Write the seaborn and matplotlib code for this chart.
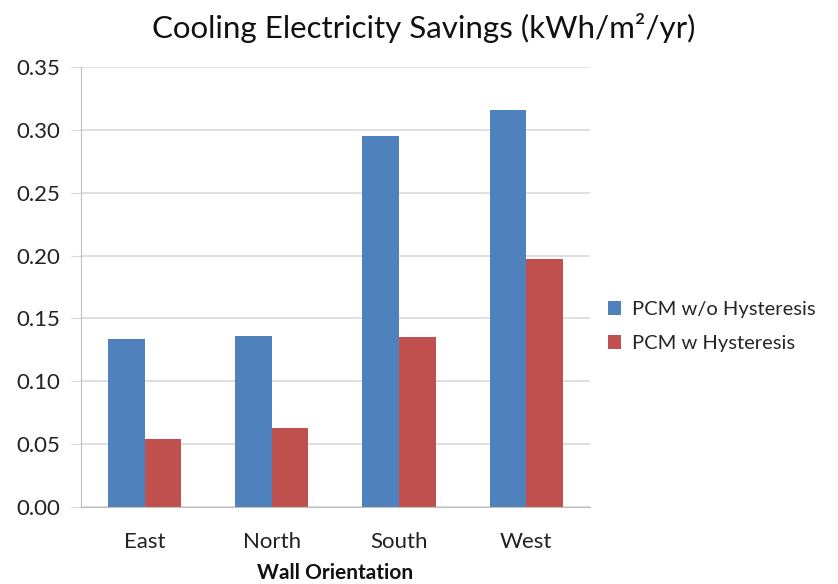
import pandas as pd
import matplotlib.pyplot as plt
import seaborn as sns

# ── data ─────────────────────────────────────────────────────────────────────
orientations = ["East", "North", "South", "West"]
series_names = ["PCM w/o Hysteresis", "PCM w Hysteresis"]
no_hysteresis = [0.134, 0.136, 0.295, 0.316]
with_hysteresis = [0.054, 0.063, 0.135, 0.197]
y_ticks = [0.00, 0.05, 0.10, 0.15, 0.20, 0.25, 0.30, 0.35]

df = pd.DataFrame({
    "Wall Orientation": orientations * 2,
    "Savings": no_hysteresis + with_hysteresis,
    "Series": [series_names[0]] * 4 + [series_names[1]] * 4,
})

sns.set_style("white")
plt.rcParams["font.family"] = ["Lato", "DejaVu Sans"]

fig = plt.figure(figsize=(8.38, 5.84), dpi=100)
ax = fig.add_axes([0.0967, 0.1318, 0.607, 0.7535])

sns.barplot(data=df, x="Wall Orientation", y="Savings", hue="Series",
            palette=["#4F81BD", "#C0504D"], width=0.575, gap=0,
            edgecolor="none", saturation=1, ax=ax)

ax.set_ylim(0, 0.35)
ax.set_xlim(-0.5, 3.5)
ax.set_yticks(y_ticks)
ax.set_yticklabels([f"{t:.2f}" for t in y_ticks])
ax.yaxis.grid(True, color="#D9D9D9", linewidth=1.2)
ax.set_axisbelow(True)
for side in ["top", "right"]:
    ax.spines[side].set_visible(False)
ax.spines["left"].set_color("#BFBFBF")
ax.spines["bottom"].set_color("#BFBFBF")
ax.tick_params(axis="y", labelsize=16, colors="#222222", length=7,
               color="#D9D9D9", pad=8, left=True)
ax.tick_params(axis="x", labelsize=16, colors="#222222", length=0, pad=18)
ax.set_xlabel("Wall Orientation", fontsize=15, fontweight="bold",
              color="#111111", labelpad=8)
ax.set_ylabel("")

fig.text(0.506, 0.952, "Cooling Electricity Savings (kWh/m²/yr)",
         ha="center", va="center", fontsize=22.5, color="#111111")

ax.legend(loc="center left", bbox_to_anchor=(1.035, 0.41), frameon=False,
          borderaxespad=0, borderpad=0,
          fontsize=14.5, handlelength=0.65, handleheight=0.65,
          handletextpad=0.55, labelspacing=0.85)

plt.savefig("out.png", dpi=100)
plt.close()
